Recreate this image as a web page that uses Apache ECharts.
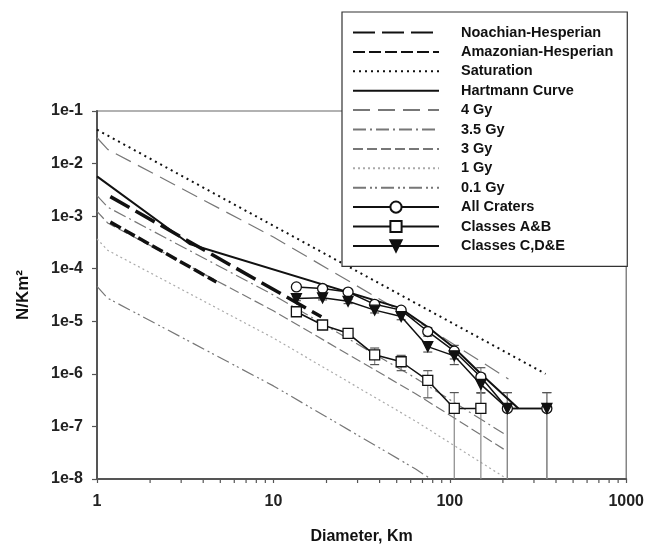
<!DOCTYPE html>
<html><head><meta charset="utf-8">
<script src="https://cdn.jsdelivr.net/npm/echarts@6/dist/echarts.min.js"></script>
<style>html,body{margin:0;padding:0;background:#fff}#c{width:647px;height:550px}</style>
</head><body><div id="c"></div>
<script>
// ---- tick labels ----
const xTickLabels = ['1', '10', '100', '1000'];
const yTickLabels = ['1e-8', '1e-7', '1e-6', '1e-5', '1e-4', '1e-3', '1e-2', '1e-1'];
const xMinorTicks = [2, 3, 4, 5, 6, 7, 8, 9, 20, 30, 40, 50, 60, 70, 80, 90, 200, 300, 400, 500, 600, 700, 800, 900];

// ---- model lines ----
const nhD = [1.19, 18.7];
const nhN = [2.35e-3, 1.22e-5];
const ahD = [1.19, 4.75];
const ahN = [7.7e-4, 5.6e-5];
const satD = [1, 349];
const satN = [0.044, 1.0e-6];
const hartD = [1, 3.35, 52, 75, 106, 155, 245];
const hartN = [5.7e-3, 2.95e-4, 1.8e-5, 7.8e-6, 3.1e-6, 9.0e-7, 2.2e-7];
const iso4D = [1, 1.15, 10, 64, 215];
const iso4N = [0.031, 0.0186, 4.0e-4, 1.05e-5, 8.0e-7];
const iso35D = [1, 1.15, 10, 64, 202];
const iso35N = [2.45e-3, 1.48e-3, 3.16e-5, 8.3e-7, 7.3e-8];
const iso3D = [1, 1.15, 10, 64, 202];
const iso3N = [1.23e-3, 7.4e-4, 1.58e-5, 4.2e-7, 3.7e-8];
const iso1D = [1, 1.15, 10, 64, 202];
const iso1N = [3.7e-4, 2.24e-4, 4.8e-6, 1.26e-7, 1.1e-8];
const iso01D = [1, 1.15, 10, 64, 78];
const iso01N = [4.6e-5, 2.75e-5, 5.9e-7, 1.55e-8, 1.0e-8];

// ---- crater counts ----
const allD = [13.5, 19, 26.5, 37.5, 53, 75, 106, 150, 212, 355];
const allN = [4.5e-5, 4.2e-5, 3.6e-5, 2.1e-5, 1.63e-5, 6.4e-6, 2.7e-6, 8.7e-7, 2.2e-7, 2.2e-7];
const allErr = [3.1e-6, 3.0e-6, 2.8e-6, 2.2e-6, 1.9e-6, 1.2e-6, 7.8e-7, 4.4e-7, 2.2e-7, 2.2e-7];
const abD = [13.5, 19, 26.5, 37.5, 53, 75, 106, 150];
const abN = [1.52e-5, 8.5e-6, 5.9e-6, 2.3e-6, 1.7e-6, 7.5e-7, 2.2e-7, 2.2e-7];
const abErr = [1.8e-6, 1.4e-6, 1.1e-6, 8.0e-7, 5.5e-7, 4.0e-7, 2.2e-7, 2.2e-7];
const cdeD = [13.5, 19, 26.5, 37.5, 53, 75, 106, 150, 212, 355];
const cdeN = [2.7e-5, 2.8e-5, 2.4e-5, 1.63e-5, 1.23e-5, 3.3e-6, 2.2e-6, 6.3e-7, 2.2e-7, 2.2e-7];
const cdeErr = [2.4e-6, 2.5e-6, 2.3e-6, 1.9e-6, 1.6e-6, 7.0e-7, 7.0e-7, 3.8e-7, 2.2e-7, 2.2e-7];

const Y_MIN = 1e-8, Y_MAX = 1e-1;
const FONT = '"Liberation Sans", Arial, sans-serif';
const pairs = (xs, ys) => xs.map((x, i) => [x, ys[i]]);

function modelLine(name, xs, ys, color, width, dash, z) {
  return {
    type: 'line', name, data: pairs(xs, ys), symbol: 'none', z: z || 2,
    lineStyle: {color, width, type: dash}, itemStyle: {color}, animation: false
  };
}
function dataLine(name, xs, ys, symbol, fill) {
  return {
    type: 'line', name, data: pairs(xs, ys), symbol, symbolSize: 10, showAllSymbol: true, z: 6,
    lineStyle: {color: '#111', width: 1.5, type: 'solid'},
    itemStyle: {color: fill, borderColor: '#111', borderWidth: 1.3}, animation: false
  };
}
function errBars(name, xs, ys, es) {
  return {
    type: 'custom', name, z: 4, silent: true, animation: false,
    data: xs.map((x, i) => [x, ys[i] + es[i], ys[i] - es[i] > Y_MIN * 1.01 ? ys[i] - es[i] : Y_MIN, ys[i] - es[i] > Y_MIN * 1.01 ? 1 : 0]),
    encode: {x: 0, y: 1},
    renderItem(params, api) {
      const x = api.value(0), hi = api.value(1), lo = api.value(2), lowCap = api.value(3);
      const t = api.coord([x, hi]), b = api.coord([x, lo]);
      const kids = [
        {type: 'line', shape: {x1: t[0], y1: t[1], x2: b[0], y2: b[1]}, style: {stroke: '#888', lineWidth: 1.2}},
        {type: 'line', shape: {x1: t[0] - 4.5, y1: t[1], x2: t[0] + 4.5, y2: t[1]}, style: {stroke: '#555', lineWidth: 1.2}}
      ];
      if (lowCap) kids.push({type: 'line', shape: {x1: b[0] - 4.5, y1: b[1], x2: b[0] + 4.5, y2: b[1]}, style: {stroke: '#555', lineWidth: 1.2}});
      return {type: 'group', children: kids};
    }
  };
}
const minorTickSeries = {
  type: 'custom', name: 'minor', silent: true, clip: false, animation: false, z: 10,
  data: xMinorTicks.map(v => [v, Y_MIN]),
  encode: {x: 0, y: 1},
  renderItem(params, api) {
    const p = api.coord([api.value(0), Y_MIN]);
    return {type: 'line', shape: {x1: p[0], y1: p[1], x2: p[0], y2: p[1] + 4}, style: {stroke: '#555', lineWidth: 1.2}};
  }
};

const modelNames = ['Noachian-Hesperian', 'Amazonian-Hesperian', 'Saturation', 'Hartmann Curve', '4 Gy', '3.5 Gy', '3 Gy', '1 Gy', '0.1 Gy'];
const craterNames = ['All Craters', 'Classes A&B', 'Classes C,D&E'];
const legendData = modelNames.map(n => ({name: n, itemStyle: {color: 'rgba(0,0,0,0)', borderColor: 'rgba(0,0,0,0)', borderWidth: 0, opacity: 0}}))
  .concat(craterNames.map(n => ({name: n})));

const chart = echarts.init(document.getElementById('c'), null, {renderer: 'canvas'});
chart.setOption({
  backgroundColor: '#fff',
  animation: false,
  grid: {left: 97, right: 20, top: 111, bottom: 68, show: true, borderColor: '#666', borderWidth: 1.2, containLabel: false},
  xAxis: {
    type: 'log', logBase: 10, min: 1, max: 1000, interval: 1,
    name: 'Diameter, Km', nameLocation: 'middle', nameGap: 50,
    nameTextStyle: {fontFamily: FONT, fontSize: 16, fontWeight: 'bold', color: '#111'},
    axisLine: {show: true, lineStyle: {color: '#555', width: 2}},
    axisTick: {show: true, length: 4, lineStyle: {color: '#555', width: 1.2}},
    axisLabel: {margin: 15, fontFamily: FONT, fontSize: 16, fontWeight: 'bold', color: '#222',
      formatter: v => xTickLabels[Math.round(Math.log10(v))]},
    splitLine: {show: false}, minorTick: {show: false}
  },
  yAxis: {
    type: 'log', logBase: 10, min: Y_MIN, max: Y_MAX, interval: 1,
    name: 'N/Km²', nameLocation: 'middle', nameGap: 65, nameRotate: 90,
    nameTextStyle: {fontFamily: FONT, fontSize: 17, fontWeight: 'bold', color: '#111'},
    axisLine: {show: true, lineStyle: {color: '#555', width: 2}},
    axisTick: {show: true, length: 5, lineStyle: {color: '#555', width: 1.2}},
    axisLabel: {margin: 14, fontFamily: FONT, fontSize: 16, fontWeight: 'bold', color: '#222',
      formatter: v => yTickLabels[Math.round(Math.log10(v)) + 8]},
    splitLine: {show: false}
  },
  legend: {
    data: legendData, orient: 'vertical', left: 342, top: 12,
    padding: [13, 14, 13, 10], itemWidth: 86, itemHeight: 14, itemGap: 4.4,
    backgroundColor: '#fff', borderColor: '#333', borderWidth: 1.2,
    selectedMode: false,
    textStyle: {fontFamily: FONT, fontSize: 14.5, fontWeight: 'bold', color: '#111', padding: [0, 0, 0, 17]}
  },
  series: [
    modelLine('Noachian-Hesperian', nhD, nhN, '#111', 3.5, [22, 7], 5),
    modelLine('Amazonian-Hesperian', ahD, ahN, '#111', 3.5, [12, 4], 5),
    modelLine('Saturation', satD, satN, '#111', 2, [2, 4], 3),
    modelLine('Hartmann Curve', hartD, hartN, '#111', 2, 'solid', 5),
    modelLine('4 Gy', iso4D, iso4N, '#777', 1.2, [17, 8]),
    modelLine('3.5 Gy', iso35D, iso35N, '#777', 1.2, [13, 4, 2, 4]),
    modelLine('3 Gy', iso3D, iso3N, '#777', 1.2, [10, 4]),
    modelLine('1 Gy', iso1D, iso1N, '#aaa', 1.2, [2, 3]),
    modelLine('0.1 Gy', iso01D, iso01N, '#777', 1.2, [13, 4, 2, 3, 2, 4]),
    errBars('All Craters err', allD, allN, allErr),
    errBars('Classes A&B err', abD, abN, abErr),
    errBars('Classes C,D&E err', cdeD, cdeN, cdeErr),
    dataLine('All Craters', allD, allN, 'circle', '#fff'),
    dataLine('Classes A&B', abD, abN, 'rect', '#fff'),
    dataLine('Classes C,D&E', cdeD, cdeN, 'path://M0,0 L10,0 L5,10 Z', '#111'),
    minorTickSeries
  ]
});
</script>
</body></html>
